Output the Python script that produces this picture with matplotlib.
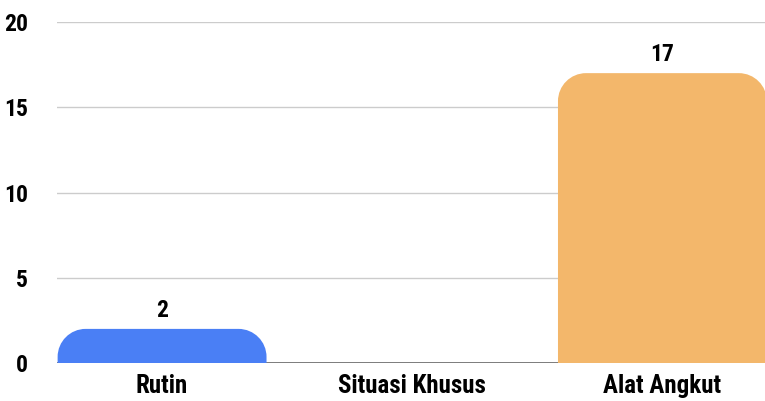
import matplotlib
matplotlib.use("Agg")
import matplotlib.pyplot as plt
from matplotlib.path import Path
from matplotlib.patches import PathPatch

categories = ["Rutin", "Situasi Khusus", "Alat Angkut"]
values = [2, 0, 17]
colors = ["#4a7ff5", "#5cb85c", "#f3b76b"]
yticks = [0, 5, 10, 15, 20]

FONT = ["Roboto Condensed", "Liberation Sans Narrow", "DejaVu Sans Condensed", "DejaVu Sans"]
plt.rcParams["font.family"] = FONT
plt.rcParams["font.weight"] = "bold"
plt.rcParams["font.stretch"] = "condensed"

fig = plt.figure(figsize=(7.65, 4.01), dpi=100)
ax = fig.add_axes([57 / 765, 38 / 401, 1 - 57 / 765, (363 - 22) / 401])
ax.set_xlim(-0.42, 2.41)
ax.set_ylim(0, 20)

width = 0.835
# corner radius in data units (about 28 px each way)
rx = 28 / 250
ry = 28 / (341 / 20)
k = 0.5523


def rounded_bar(x, h):
    l, r = x - width / 2, x + width / 2
    ryy = min(ry, h)
    verts = [
        (l, 0), (l, h - ryy),
        (l, h - ryy + k * ryy), (l + rx - k * rx, h), (l + rx, h),
        (r - rx, h),
        (r - rx + k * rx, h), (r, h - ryy + k * ryy), (r, h - ryy),
        (r, 0), (l, 0),
    ]
    codes = [Path.MOVETO, Path.LINETO,
             Path.CURVE4, Path.CURVE4, Path.CURVE4,
             Path.LINETO,
             Path.CURVE4, Path.CURVE4, Path.CURVE4,
             Path.LINETO, Path.CLOSEPOLY]
    return Path(verts, codes)


for i, (v, c) in enumerate(zip(values, colors)):
    if v > 0:
        ax.add_patch(PathPatch(rounded_bar(i, v), facecolor=c, edgecolor="none", zorder=3))
        ax.annotate(str(v), (i, v), xytext=(0, 5), textcoords="offset points",
                    ha="center", va="bottom", fontsize=17, fontweight="bold")

for t in yticks[1:]:
    ax.axhline(t, color="#cccccc", lw=1, zorder=1)
ax.axhline(0, color="#666666", lw=1.2, zorder=2)

ax.set_yticks(yticks)
ax.set_yticklabels([str(t) for t in yticks], fontsize=17, fontweight="bold")
ax.set_xticks(range(len(categories)))
ax.set_xticklabels(categories, fontsize=18, fontweight="bold")
ax.tick_params(axis="y", length=0, pad=21)
ax.tick_params(axis="x", length=0, pad=8)
for s in ax.spines.values():
    s.set_visible(False)

fig.savefig("out.png", dpi=100)
